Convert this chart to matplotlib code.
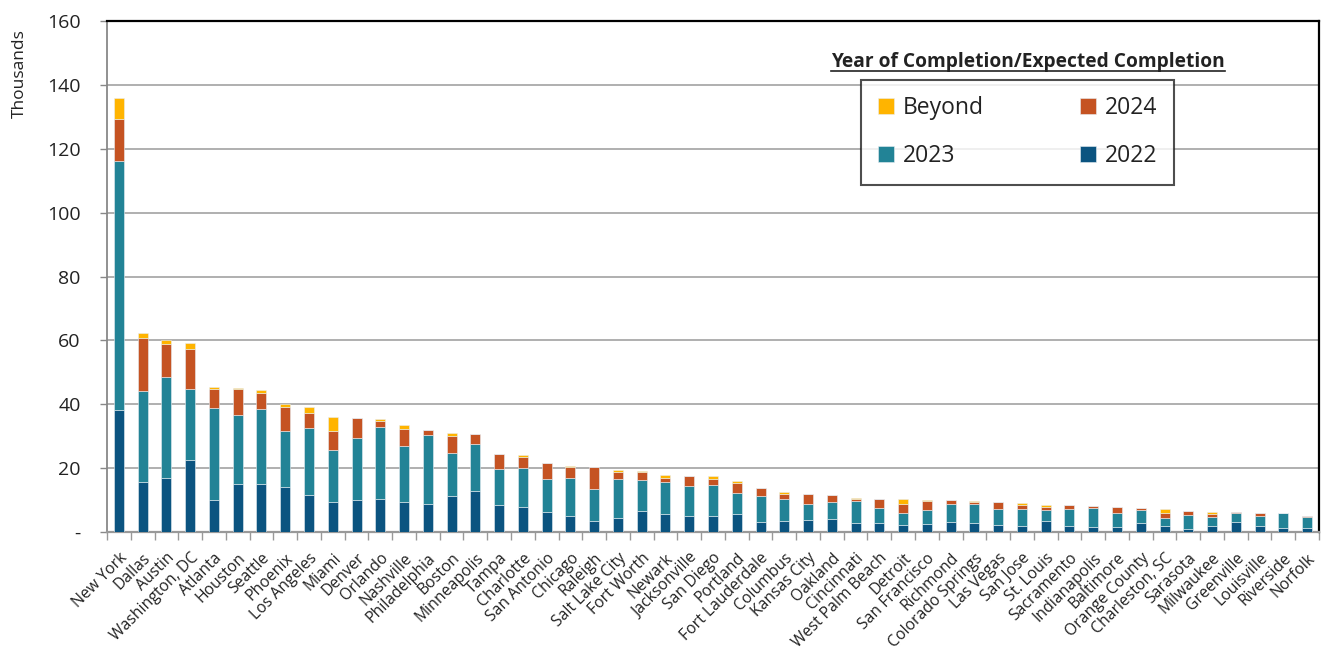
import numpy as np
import matplotlib.pyplot as plt
from matplotlib.lines import Line2D

cities = ["New York", "Dallas", "Austin", "Washington, DC", "Atlanta", "Houston",
          "Seattle", "Phoenix", "Los Angeles", "Miami", "Denver", "Orlando",
          "Nashville", "Philadelphia", "Boston", "Minneapolis", "Tampa",
          "Charlotte", "San Antonio", "Chicago", "Raleigh", "Salt Lake City",
          "Fort Worth", "Newark", "Jacksonville", "San Diego", "Portland",
          "Fort Lauderdale", "Columbus", "Kansas City", "Oakland", "Cincinnati",
          "West Palm Beach", "Detroit", "San Francisco", "Richmond",
          "Colorado Springs", "Las Vegas", "San Jose", "St. Louis", "Sacramento",
          "Indianapolis", "Baltimore", "Orange County", "Charleston, SC",
          "Sarasota", "Milwaukee", "Greenville", "Louisville", "Riverside",
          "Norfolk"]

# thousands of units per completion year
y2022 = [38.3, 15.7, 17.0, 22.4, 10.1, 14.9, 14.9, 14.2, 11.5, 9.5,
         10.0, 10.4, 9.5, 8.85, 11.35, 12.7, 8.3, 7.9, 6.35, 5.1,
         3.3, 4.5, 6.7, 5.7, 5.0, 5.0, 5.7, 3.0, 3.5, 3.85,
         4.2, 2.8, 2.8, 2.2, 2.6, 3.2, 2.9, 2.2, 2.0, 3.4,
         2.0, 1.5, 1.5, 2.9, 2.0, 0.8, 2.0, 3.2, 2.0, 1.25, 1.15]
y2023 = [77.8, 28.5, 31.6, 22.4, 28.65, 21.6, 23.5, 17.3, 21.2, 16.3,
         19.3, 22.6, 17.5, 21.45, 13.45, 14.8, 11.4, 12.2, 10.25, 11.9,
         10.2, 12.1, 9.5, 9.9, 9.3, 9.8, 6.5, 8.2, 6.8, 4.8,
         5.3, 6.8, 4.6, 3.8, 4.4, 5.45, 5.85, 5.0, 5.2, 3.4,
         5.1, 6.1, 4.3, 4.1, 2.5, 4.4, 2.8, 2.7, 3.0, 4.55, 3.55]
y2024 = [13.1, 16.5, 10.2, 12.5, 6.05, 8.3, 5.1, 7.7, 4.6, 5.8,
         6.5, 1.8, 5.3, 1.5, 5.4, 3.3, 4.6, 3.5, 4.9, 3.3,
         7.0, 2.25, 2.65, 1.3, 3.3, 1.8, 3.1, 2.45, 1.6, 3.35,
         2.2, 0.8, 2.9, 2.85, 2.7, 1.35, 0.75, 2.2, 1.1, 1.0,
         1.3, 0.4, 1.9, 0.6, 1.4, 1.4, 0.8, 0.25, 0.8, 0.0, 0.3]
beyond = [6.6, 1.5, 1.3, 1.8, 0.7, 0.4, 1.1, 1.0, 1.8, 4.4,
          0.0, 0.5, 1.2, 0.0, 0.7, 0.0, 0.0, 0.5, 0.0, 0.3,
          0.0, 0.45, 0.3, 1.0, 0.0, 0.9, 0.7, 0.0, 0.5, 0.0,
          0.0, 0.2, 0.0, 1.45, 0.3, 0.0, 0.2, 0.0, 0.75, 0.6,
          0.0, 0.0, 0.0, 0.0, 1.3, 0.0, 0.55, 0.0, 0.0, 0.0, 0.0]

series = [("2022", y2022, "#0b5480"),
          ("2023", y2023, "#228396"),
          ("2024", y2024, "#c55322"),
          ("Beyond", beyond, "#ffb400")]

plt.rcParams['font.family'] = ['Open Sans', 'DejaVu Sans']

fig = plt.figure(figsize=(13.27, 6.52), dpi=100)
ax = fig.add_axes([107 / 1327, 120 / 652, 1212 / 1327, 511 / 652])

x = np.arange(len(cities))
bottom = np.zeros(len(cities))
handles = {}
for name, vals, color in series:
    vals = np.array(vals)
    bars = ax.bar(x, vals, 0.42, bottom=bottom, color=color,
                  edgecolor="#e8eef2", linewidth=0.4, zorder=3)
    handles[name] = bars
    bottom += vals

ax.set_xlim(-0.5, len(cities) - 0.5)
ax.set_ylim(0, 160)
ax.set_yticks(np.arange(0, 161, 20))
ax.set_yticklabels(["-"] + [str(v) for v in range(20, 161, 20)],
                   fontsize=14, color="#222222")
ax.yaxis.grid(True, color="#9a9a9a", linewidth=1.1, zorder=0)
ax.tick_params(axis="y", length=5, color="#888888", width=1, pad=14)

ax.set_xticks(x)
ax.set_xticklabels(cities, rotation=45, ha="right", rotation_mode="anchor",
                   fontsize=11.3, color="#222222")
ax.tick_params(axis="x", length=0, pad=13)
ax.set_xticks(np.arange(-0.5, len(cities), 1), minor=True)
ax.tick_params(axis="x", which="minor", length=6, color="#999999", width=1)

ax.spines["top"].set_color("#000000")
ax.spines["top"].set_linewidth(1.6)
ax.spines["left"].set_color("#888888")
ax.spines["left"].set_linewidth(1.3)
ax.spines["bottom"].set_color("#999999")
ax.spines["bottom"].set_linewidth(1.6)
ax.spines["right"].set_color("#000000")
ax.spines["right"].set_linewidth(1.6)

ax.set_ylabel("Thousands", fontsize=12.5, color="#222222")
ax.yaxis.set_label_coords(-0.065, 0.897)

order = ["Beyond", "2023", "2024", "2022"]
leg = ax.legend([handles[k] for k in order], order, ncol=2, loc="upper left",
                bbox_to_anchor=((861 - 107) / 1212, (532 - 79) / 512),
                borderaxespad=0, fancybox=False, frameon=True,
                edgecolor="#222222", fontsize=16.5, handlelength=0.7,
                handleheight=0.7, handletextpad=0.4, columnspacing=4.2,
                labelspacing=1.05, borderpad=0.72)
leg.get_frame().set_linewidth(1.5)
leg.set_zorder(5)
for t in leg.get_texts():
    t.set_color("#222222")

title = fig.text(1028 / 1327, 1 - 62 / 652,
                 "Year of Completion/Expected Completion",
                 ha="center", va="center", fontsize=13.8, fontweight="bold",
                 color="#222222")
fig.canvas.draw()
bb = title.get_window_extent(fig.canvas.get_renderer())
bb = bb.transformed(fig.transFigure.inverted())
fig.add_artist(Line2D([bb.x0, bb.x1], [bb.y0 + 0.001, bb.y0 + 0.001],
                      color="#222222", linewidth=1.2))

fig.savefig("out.png", dpi=100)
